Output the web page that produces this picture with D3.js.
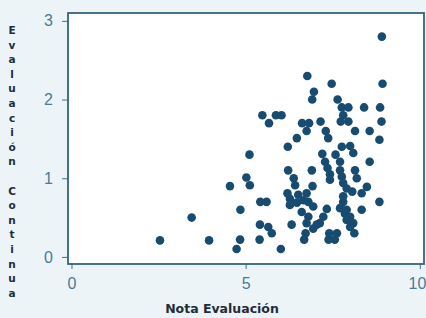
<!DOCTYPE html>
<html>
<head>
<meta charset="utf-8">
<style>
  body { margin: 0; background: #edf4f8; }
  svg { display: block; font-family: "DejaVu Sans", sans-serif; }
  .tick text { fill: #4a7a96; font-size: 16px; }
  .tick line { stroke: #3f7190; }
</style>
</head>
<body>
<script src="https://d3js.org/d3.v7.min.js"></script>
<script>
// Nota Evaluación (x) vs Evaluación Continua (y)
var notaEval = [8.91, 6.77, 7.47, 8.93, 6.96, 6.91, 7.64, 7.76, 7.95, 8.40, 8.86,
  5.48, 5.87, 6.03, 7.80, 5.67, 6.62, 6.82, 7.15, 7.73, 7.95, 8.90,
  6.75, 7.30, 8.14, 8.56, 6.47, 7.37, 8.84, 6.21, 7.76, 8.00,
  5.11, 7.20, 7.58, 8.09, 7.28, 7.71, 8.56, 6.22, 6.90, 7.35, 8.14, 7.71,
  7.42, 5.02, 6.38, 7.76, 8.19, 7.42, 5.12, 4.55, 6.42, 6.92, 7.80, 7.90, 8.48,
  6.20, 6.75, 8.06, 8.33, 6.27, 7.80, 6.51, 6.66, 6.27,
  5.42, 5.60, 6.30, 6.47, 6.80, 7.80, 8.84, 6.94, 7.33, 7.71, 4.85, 8.33, 7.90,
  6.61, 7.85, 8.00, 3.45, 6.80, 7.23, 7.90, 8.09, 7.13,
  5.41, 5.65, 6.32, 6.75, 7.04, 6.94, 8.00, 5.75, 6.72, 7.40, 7.62, 8.12,
  2.54, 3.95, 4.84, 5.40, 6.68, 7.38, 7.56, 4.74, 6.01];
var evalContinua = [2.80, 2.30, 2.20, 2.20, 2.10, 2.00, 2.00, 1.90, 1.90, 1.90, 1.90,
  1.80, 1.80, 1.80, 1.80, 1.70, 1.70, 1.70, 1.72, 1.72, 1.72, 1.72,
  1.60, 1.60, 1.60, 1.60, 1.51, 1.51, 1.49, 1.40, 1.40, 1.41,
  1.30, 1.31, 1.30, 1.32, 1.21, 1.21, 1.21, 1.10, 1.10, 1.13, 1.10, 1.10,
  1.05, 1.01, 1.00, 1.02, 1.00, 0.98, 0.91, 0.90, 0.91, 0.90, 0.94, 0.87, 0.89,
  0.81, 0.81, 0.83, 0.81, 0.74, 0.77, 0.79, 0.72, 0.66,
  0.70, 0.70, 0.69, 0.69, 0.70, 0.70, 0.70, 0.64, 0.61, 0.62, 0.60, 0.60, 0.60,
  0.57, 0.55, 0.51, 0.50, 0.51, 0.51, 0.47, 0.43, 0.43,
  0.41, 0.38, 0.41, 0.43, 0.41, 0.36, 0.38, 0.30, 0.30, 0.30, 0.30, 0.30,
  0.21, 0.21, 0.22, 0.22, 0.22, 0.22, 0.22, 0.10, 0.10];
var xTicks = [0, 5, 10];
var yTicks = [0, 1, 2, 3];
var xTitle = "Nota Evaluación";
var yTitle = "Evaluación Continua";

var W = 426, H = 318;
var svg = d3.select("body").append("svg")
    .attr("width", W)
    .attr("height", H);

var x = d3.scaleLinear().domain([-0.1, 10.12]).range([68, 424]);
var y = d3.scaleLinear().domain([-0.09, 3.1]).range([264, 13]);

// plot area
svg.append("rect")
    .attr("x", 68).attr("y", 13)
    .attr("width", 356).attr("height", 251)
    .attr("fill", "#ffffff");

// axes
svg.append("g")
    .attr("class", "x axis")
    .attr("transform", "translate(0,264)")
    .call(d3.axisBottom(x).tickValues(xTicks).tickFormat(d3.format("d"))
        .tickSize(5).tickPadding(9))
    .call(function(g) {
        g.select(".domain").remove();
        // keep the last label inside the window
        g.selectAll(".tick text")
          .filter(function(d) { return d === 10; })
          .attr("text-anchor", "end")
          .attr("dx", 6);
    });

svg.append("g")
    .attr("class", "y axis")
    .attr("transform", "translate(68,0)")
    .call(d3.axisLeft(y).tickValues(yTicks).tickFormat(d3.format("d"))
        .tickSize(6).tickPadding(9))
    .call(function(g) { g.select(".domain").remove(); });

// frame
svg.append("rect")
    .attr("x", 68).attr("y", 13)
    .attr("width", 356).attr("height", 251)
    .attr("fill", "none")
    .attr("stroke", "#33647e")
    .attr("stroke-width", 1.8);

// points
svg.append("g")
    .selectAll("circle")
    .data(notaEval.map(function(v, i) { return [v, evalContinua[i]]; }))
    .enter().append("circle")
      .attr("cx", function(d) { return x(d[0]); })
      .attr("cy", function(d) { return y(d[1]); })
      .attr("r", 4.3)
      .attr("fill", "#174c70");

// x title
svg.append("text")
    .attr("x", 222).attr("y", 313)
    .attr("text-anchor", "middle")
    .attr("font-size", 12.5)
    .attr("font-weight", "bold")
    .attr("fill", "#1f2d38")
    .text(xTitle);

// y title: stacked upright letters
svg.append("g")
    .selectAll("text")
    .data(yTitle.split(""))
    .enter().append("text")
      .attr("x", 12)
      .attr("y", function(d, i) { return 34 + i * 14.6; })
      .attr("text-anchor", "middle")
      .attr("font-size", 10.5)
      .attr("font-weight", "bold")
      .attr("fill", "#1f2d38")
      .text(function(d) { return d; });
</script>
</body>
</html>
